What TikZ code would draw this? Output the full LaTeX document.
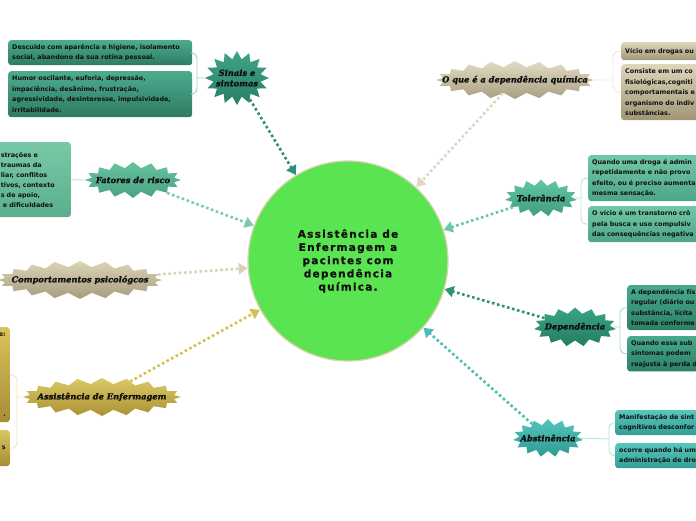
\documentclass[tikz,border=0pt]{standalone}
\usepackage{fontspec}
\setmainfont{DejaVu Sans}
\newfontfamily\burstfont{DejaVu Serif}[BoldItalicFeatures={FakeBold=1.6}]
\newfontfamily\hubfont{DejaVu Sans}[LetterSpace=12, BoldFeatures={FakeBold=1}]
\usetikzlibrary{arrows.meta,shapes.symbols}

\definecolor{hubgreen}{HTML}{5AE452}
\definecolor{hubrim}{HTML}{D9D3B2}
\definecolor{sinaisTop}{HTML}{3FA386}
\definecolor{sinaisBot}{HTML}{2A7F67}
\definecolor{sinaisBoxTop}{HTML}{4CAB8E}
\definecolor{sinaisBoxBot}{HTML}{2E7B63}
\definecolor{fatoresTop}{HTML}{66C29F}
\definecolor{fatoresBot}{HTML}{4AA282}
\definecolor{fatoresBoxTop}{HTML}{77C9A6}
\definecolor{fatoresBoxBot}{HTML}{5BAF8E}
\definecolor{compTop}{HTML}{DCD4B6}
\definecolor{compBot}{HTML}{A69C7E}
\definecolor{enfTop}{HTML}{DCC867}
\definecolor{enfBot}{HTML}{AA9233}
\definecolor{enfBoxTop}{HTML}{D9C45C}
\definecolor{enfBoxBot}{HTML}{A68D36}
\definecolor{oqueTop}{HTML}{E2DCC4}
\definecolor{oqueBot}{HTML}{A99E80}
\definecolor{oqueBoxTop}{HTML}{DED6BB}
\definecolor{oqueBoxBot}{HTML}{A09676}
\definecolor{tolTop}{HTML}{62C6A2}
\definecolor{tolBot}{HTML}{3F9E7D}
\definecolor{tolBoxTop}{HTML}{70C8A7}
\definecolor{tolBoxBot}{HTML}{4CA585}
\definecolor{depTop}{HTML}{3AA485}
\definecolor{depBot}{HTML}{247C62}
\definecolor{depBoxTop}{HTML}{48AA8C}
\definecolor{depBoxBot}{HTML}{2C8067}
\definecolor{absTop}{HTML}{52C4BB}
\definecolor{absBot}{HTML}{2F9C94}
\definecolor{absBoxTop}{HTML}{58C6BD}
\definecolor{absBoxBot}{HTML}{349E95}
\definecolor{inkdark}{HTML}{111111}

\begin{document}
\begin{tikzpicture}[
  x=1pt, y=-1pt,
  >={Triangle[width=11pt,length=9pt]},
  hub/.style={circle, draw=hubrim, line width=1.3pt, fill=hubgreen, minimum size=200pt, align=center, text=inkdark, font=\hubfont\bfseries\fontsize{10.5}{13.2}\selectfont},
  burst/.style={starburst, starburst point height=6pt, random starburst=0, inner xsep=-25pt, inner ysep=-2pt, align=center, text=inkdark, font=\burstfont\bfseries\itshape\fontsize{8.3}{10.5}\selectfont},
  leaf/.style={rounded corners=3pt, align=left, inner sep=4pt, text=inkdark, font=\bfseries\fontsize{6.4}{10.5}\selectfont},
  arr/.style={->, line width=2.6pt, dash pattern=on 2.6pt off 2.6pt},
  link/.style={line width=0.9pt, rounded corners=6pt}
]
\useasboundingbox (0,0) rectangle (696,520);

\node[hub] (hub) at (348,261) {Assistência de\\Enfermagem a\\pacintes com\\dependência\\química.};

% ramos da esquerda
\node[burst, minimum width=64pt, minimum height=54pt, starburst points=16, starburst point height=8pt, top color=sinaisTop, bottom color=sinaisBot] (sinais) at (237,78) {Sinais e\\sintomas};
\node[leaf, anchor=north west, text width=176pt, minimum height=25pt, top color=sinaisBoxTop, bottom color=sinaisBoxBot] (sinais_a) at (8,40) {Descuido com aparência e higiene, isolamento\\social, abandono da sua rotina pessoal.};
\node[leaf, anchor=north west, text width=176pt, minimum height=46pt, top color=sinaisBoxTop, bottom color=sinaisBoxBot] (sinais_b) at (8,71) {Humor oscilante, euforia, depressão,\\impaciência, desânimo, frustração,\\agressividade, desinteresse, impulsividade,\\irritabilidade.};

\node[burst, minimum width=96pt, minimum height=36pt, starburst points=16, top color=fatoresTop, bottom color=fatoresBot] (fatores) at (133,180) {Fatores de risco};
\node[leaf, anchor=north east, text width=66pt, minimum height=75pt, top color=fatoresBoxTop, bottom color=fatoresBoxBot, font=\bfseries\fontsize{6.4}{10}\selectfont] (fatores_a) at (71,142) {strações e\\ traumas da\\liar, conflitos\\ tivos, contexto\\ s de apoio,\\ \ e dificuldades};

\node[burst, minimum width=164pt, minimum height=38pt, starburst points=20, top color=compTop, bottom color=compBot] (comp) at (80,280) {Comportamentos psicológcos};

\node[burst, minimum width=158pt, minimum height=38pt, starburst points=20, top color=enfTop, bottom color=enfBot] (enf) at (102,397) {Assistência de Enfermagem};
\node[leaf, anchor=north east, text width=40pt, minimum height=95pt, align=right, top color=enfBoxTop, bottom color=enfBoxBot] (enf_a) at (10,327) {e:\\[70pt].};
\node[leaf, anchor=north east, text width=40pt, minimum height=36pt, align=right, top color=enfBoxTop, bottom color=enfBoxBot] (enf_b) at (10,430) {s};

% ramos da direita
\node[burst, minimum width=158pt, minimum height=38pt, starburst points=20, top color=oqueTop, bottom color=oqueBot] (oque) at (515,80) {O que é a dependência química};
\node[leaf, anchor=north west, text width=110pt, minimum height=18pt, top color=oqueBoxTop, bottom color=oqueBoxBot] (oque_a) at (621,42) {Vício em drogas ou};
\node[leaf, anchor=north west, text width=110pt, minimum height=56pt, top color=oqueBoxTop, bottom color=oqueBoxBot] (oque_b) at (621,64) {Consiste em um co\\fisiológicas,cogniti\\comportamentais e\\organismo do indiv\\substâncias.};

\node[burst, minimum width=72pt, minimum height=37pt, starburst points=15, top color=tolTop, bottom color=tolBot] (tol) at (541,198) {Tolerância};
\node[leaf, anchor=north west, text width=120pt, minimum height=45pt, top color=tolBoxTop, bottom color=tolBoxBot] (tol_a) at (588,155) {Quando uma droga é admin\\repetidamente e não provo\\efeito, ou é preciso aumenta\\mesma sensação.};
\node[leaf, anchor=north west, text width=120pt, minimum height=36pt, top color=tolBoxTop, bottom color=tolBoxBot] (tol_b) at (588,206) {O vício é um transtorno crô\\pela busca e uso compulsiv\\das consequências negativa};

\node[burst, minimum width=82pt, minimum height=39pt, starburst points=15, top color=depTop, bottom color=depBot] (dep) at (575,327) {Dependência};
\node[leaf, anchor=north west, text width=100pt, minimum height=45pt, top color=depBoxTop, bottom color=depBoxBot] (dep_a) at (627,285) {A dependência fís\\regular (diário ou\\substância, lícita \\tomada conforme};
\node[leaf, anchor=north west, text width=100pt, minimum height=35pt, top color=depBoxTop, bottom color=depBoxBot] (dep_b) at (627,336) {Quando essa sub\\sintomas podem\\reajusta à perda d};

\node[burst, minimum width=70pt, minimum height=38pt, starburst points=15, top color=absTop, bottom color=absBot] (abs) at (548,438) {Abstinência};
\node[leaf, anchor=north west, text width=110pt, minimum height=25pt, top color=absBoxTop, bottom color=absBoxBot] (abs_a) at (615,410) {Manifestação de sint\\cognitivos desconfor};
\node[leaf, anchor=north west, text width=110pt, minimum height=25pt, top color=absBoxTop, bottom color=absBoxBot] (abs_b) at (615,443) {ocorre quando há um\\administração de dro};

% ligações aos quadros
\coordinate (sinais_j) at (197,78);
\coordinate (enf_j) at (17,397);
\coordinate (oque_j) at (613,80);
\coordinate (tol_j) at (581,198);
\coordinate (dep_j) at (620,327);
\coordinate (abs_j) at (609,439);

\draw[link, sinaisTop!50] (sinais.west) -- (sinais_j);
\draw[link, sinaisTop!50] (sinais_j) |- (sinais_a.east);
\draw[link, sinaisTop!50] (sinais_j) |- (sinais_b.east);
\draw[link, fatoresTop!45] (fatores.west) -- (fatores_a.east);
\draw[link, enfTop!45] (enf.west) -- (enf_j);
\draw[link, enfTop!45] (enf_j) |- (enf_a.east);
\draw[link, enfTop!45] (enf_j) |- (enf_b.east);
\draw[link, oqueTop!70] (oque.east) -- (oque_j);
\draw[link, oqueTop!70] (oque_j) |- (oque_a.west);
\draw[link, oqueTop!70] (oque_j) |- (oque_b.west);
\draw[link, tolTop!45] (tol.east) -- (tol_j);
\draw[link, tolTop!45] (tol_j) |- (tol_a.west);
\draw[link, tolTop!45] (tol_j) |- (tol_b.west);
\draw[link, depTop!45] (dep.east) -- (dep_j);
\draw[link, depTop!45] (dep_j) |- (dep_a.west);
\draw[link, depTop!45] (dep_j) |- (dep_b.west);
\draw[link, absTop!45] (abs.east) -- (abs_j);
\draw[link, absTop!45] (abs_j) |- (abs_a.west);
\draw[link, absTop!45] (abs_j) |- (abs_b.west);

% setas pontilhadas ao centro
\draw[arr, color={rgb,255:red,46;green,144;blue,120}] (sinais) -- (hub);
\draw[arr, color={rgb,255:red,125;green,202;blue,173}] (fatores) -- (hub);
\draw[arr, color={rgb,255:red,217;green,210;blue,184}] (comp) -- (hub);
\draw[arr, color={rgb,255:red,214;green,192;blue,82}] (enf) -- (hub);
\draw[arr, color={rgb,255:red,221;green,215;blue,192}] (oque) -- (hub);
\draw[arr, color={rgb,255:red,110;green,198;blue,166}] (tol) -- (hub);
\draw[arr, color={rgb,255:red,47;green,146;blue,121}] (dep) -- (hub);
\draw[arr, color={rgb,255:red,77;green,190;blue,182}] (abs) -- (hub);
\end{tikzpicture}
\end{document}
